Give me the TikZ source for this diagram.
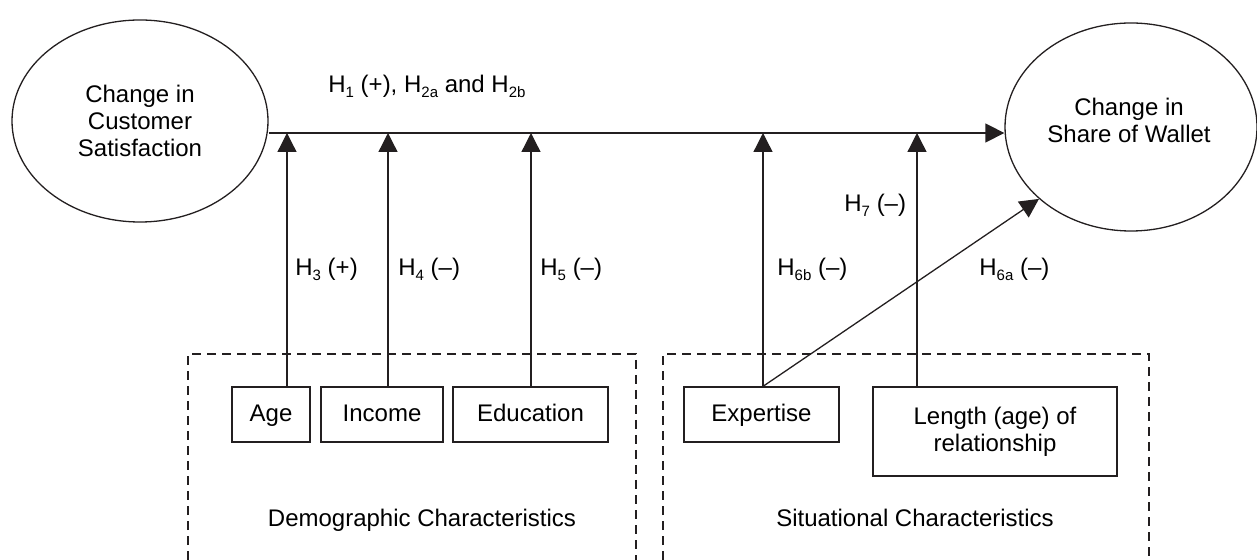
\documentclass[tikz,border=0pt]{standalone}
\usepackage{fontspec}
\setmainfont{Liberation Sans}
\usepackage{tikz}
\usepackage{xcolor}
\usetikzlibrary{arrows.meta,positioning,shapes.geometric}
\definecolor{ink}{HTML}{231F20}
\newcommand{\mainsize}{\fontsize{12}{13.5}\selectfont}
\newcommand{\hsb}[1]{\raisebox{-2.5pt}{\fontsize{7.5}{8}\selectfont #1}}
\tikzset{
  bubble/.style={draw=ink, ellipse, line width=0.65pt, inner sep=0pt,
                 align=center, font=\mainsize},
  factor/.style={draw=ink, line width=0.65pt, minimum height=27.5pt,
                 inner sep=2pt, align=center, font=\mainsize},
  oneline/.style={text height=0.9em, text depth=0.184em},
  grpbox/.style={draw=ink, line width=0.55pt, dash pattern=on 4.5pt off 3pt},
  hyplabel/.style={anchor=base west, inner sep=0pt, font=\mainsize},
  grplabel/.style={anchor=base, inner sep=0pt, font=\mainsize},
  linkarr/.style={-{Triangle[length=9.5pt,width=9.5pt]}, line width=0.65pt, draw=ink}
}

\begin{document}
\begin{tikzpicture}[x=0.5pt,y=-0.5pt]
  \useasboundingbox (0,0) rectangle (1257,560);

  % outcome ellipses and the main path between them
  \node[bubble,minimum width=128pt,minimum height=101pt] (satisf)
    at (140,121) {Change in\\Customer\\Satisfaction};
  \node[bubble,minimum width=126pt,minimum height=104pt] (wallet) at (1131,127) {};
  \node[font=\mainsize,align=center] (walletTxt) at (1129,120) {Change in\\Share of Wallet};
  \coordinate (hl) at (0,133);
  \draw[linkarr] (satisf.east |- hl) -- (wallet.west |- hl);
  \node[hyplabel] (h1) at (328,93) {H\hsb{1} (+), H\hsb{2a} and H\hsb{2b}};

  % demographic group, open at the bottom
  \draw[grpbox] (188,560) |- (636,354) -- (636,560);
  \node[factor,oneline,minimum width=39pt] (age) at (271,414.5) {Age};
  \node[factor,oneline,minimum width=61pt] (income) at (382,414.5) {Income};
  \node[factor,oneline,minimum width=77.5pt] (educ) at (530.5,414.5) {Education};
  \node[grplabel] (demo) at (422,526) {Demographic Characteristics};

  % situational group
  \draw[grpbox] (663,560) |- (1149,354) -- (1149,560);
  \node[factor,oneline,minimum width=77.5pt] (expert) at (761.5,414.5) {Expertise};
  \node[factor,minimum width=122pt,minimum height=44.5pt] (length)
    at (995,431.5) {Length (age) of\\relationship};
  \node[grplabel] (situ) at (915,526) {Situational Characteristics};

  % moderators onto the main path
  \foreach \nm/\xx in {age/287,income/388,educ/531,expert/763,length/917} {
    \coordinate (j-\nm) at (\xx,133);
    \draw[linkarr] (\nm.north -| j-\nm) -- (j-\nm);
  }
  % direct effect of expertise
  \draw[linkarr] (expert.north -| j-expert) -- (wallet.218);

  % hypothesis labels
  \node[hyplabel] (h3) at (295,276) {H\hsb{3} (+)};
  \node[hyplabel] (h4) at (398,276) {H\hsb{4} (–)};
  \node[hyplabel] (h5) at (540,276) {H\hsb{5} (–)};
  \node[hyplabel] (h6b) at (777,276) {H\hsb{6b} (–)};
  \node[hyplabel] (h6a) at (979,276) {H\hsb{6a} (–)};
  \node[hyplabel] (h7) at (844,212) {H\hsb{7} (–)};
\end{tikzpicture}
\end{document}
